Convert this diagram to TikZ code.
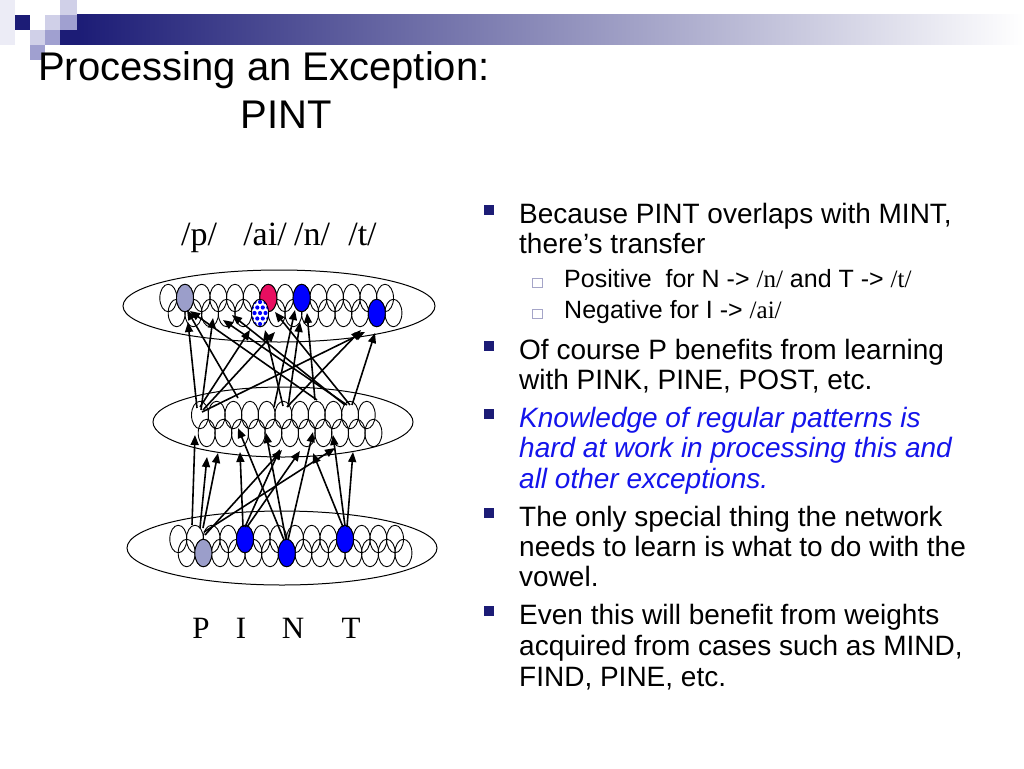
\documentclass[tikz,border=0pt]{standalone}
\usepackage{fontspec}
\setmainfont{Liberation Sans}
\newfontfamily\tms{Liberation Serif}
\usetikzlibrary{arrows.meta,shapes.geometric,calc}
\definecolor{navy}{RGB}{28,28,118}
\definecolor{lightlav}{RGB}{208,208,232}
\definecolor{medlav}{RGB}{160,160,208}
\definecolor{faintlav}{RGB}{236,236,246}
\definecolor{pgray}{RGB}{155,158,202}
\definecolor{pred}{RGB}{232,14,96}
\definecolor{pblue}{RGB}{0,0,255}
\definecolor{txtblue}{RGB}{20,20,235}
\definecolor{subbox}{RGB}{165,165,200}
\begin{document}
\begin{tikzpicture}[x=1pt,y=-1pt,
  unit/.style={ellipse,draw=black,line width=0.9pt,minimum width=17pt,minimum height=27.5pt,inner sep=0pt},
  layer/.style={draw=black,line width=1pt},
  colfill/.style={draw=black,line width=0.9pt},
  arr/.style={draw=black,line width=1.6pt,-{Triangle[length=10pt,width=8pt]}},
  bultxt/.style={anchor=base west,inner sep=0pt,font=\fontsize{28}{30}\selectfont},
  subtxt/.style={anchor=base west,inner sep=0pt,font=\fontsize{25}{27}\selectfont},
  bulsq/.style={fill=navy,minimum width=10.5pt,minimum height=10.5pt,inner sep=0pt},
  subsq/.style={draw=subbox,fill=white,line width=0.9pt,minimum size=9.5pt,inner sep=0pt},
  lbl/.style={anchor=base,inner sep=0pt,font=\tms\fontsize{34}{36}\selectfont},
  inlbl/.style={anchor=base,inner sep=0pt,font=\tms\fontsize{31}{33}\selectfont}
]
\useasboundingbox (0,0) rectangle (1024,768);
\fill[white] (0,0) rectangle (1024,768);

% header decoration
\fill[faintlav] (0,0) rectangle (15,45);
\fill[navy] (15,15) rectangle (30,30);
\fill[lightlav] (45,15) rectangle (60,30);
\fill[lightlav] (60,0) rectangle (77,15);
\fill[medlav] (60,15) rectangle (77,30);
\fill[lightlav] (30,30) rectangle (45,45);
\fill[medlav] (45,30) rectangle (60,45);
\fill[medlav] (30,45) rectangle (45,60);
\fill[navy] (60,30) rectangle (77,45);
\shade[left color=navy,right color=white] (77,15) rectangle (1024,45);

% title
\node[anchor=base west,inner sep=0pt,font=\fontsize{40}{44}\selectfont] (title) at (38,80) {Processing an Exception:};
\node[anchor=base,inner sep=0pt,font=\fontsize{40}{44}\selectfont] (title2) at (286,128) {PINT};

% layers
\draw[layer] (279,306) ellipse [x radius=156pt, y radius=36pt];
\draw[layer] (283,422) ellipse [x radius=130pt, y radius=35pt];
\draw[layer] (282,548) ellipse [x radius=155pt, y radius=37pt];

% units
\foreach \k in {0,...,13} {
  \node[unit] (oa\k) at ({168.3+16.67*\k},298) {};
  \node[unit] (ob\k) at ({176.7+16.67*\k},313) {};
  \node[unit] (ia\k) at ({178.3+16.67*\k},539) {};
  \node[unit] (ib\k) at ({186.7+16.67*\k},553) {};
}
\foreach \k in {0,...,10} {
  \node[unit] (ha\k) at ({200+16.67*\k},415) {};
  \node[unit] (hb\k) at ({206.7+16.67*\k},433) {};
}

% coloured units
\path[colfill,fill=pgray] (oa1.center) ellipse [x radius=8.5pt, y radius=13.75pt];
\path[colfill,fill=pred]  (oa6.center) ellipse [x radius=8.5pt, y radius=13.75pt];
\path[colfill,fill=pblue] (oa8.center) ellipse [x radius=8.5pt, y radius=13.75pt];
\path[colfill,fill=pblue] (ob12.center) ellipse [x radius=8.5pt, y radius=13.75pt];
\begin{scope}
  \clip (ob5.center) ellipse [x radius=8.5pt, y radius=13.75pt];
  \fill[white] (ob5.center) ellipse [x radius=8.5pt, y radius=13.75pt];
  \foreach \dy in {-11,0,11} \foreach \dx in {-5.5,0,5.5}
    \fill[pblue] ($(ob5.center)+(\dx,\dy)$) circle (2.1pt);
  \foreach \dy in {-5.5,5.5} \foreach \dx in {-8.25,-2.75,2.75,8.25}
    \fill[pblue] ($(ob5.center)+(\dx,\dy)$) circle (2.1pt);
\end{scope}
\draw[line width=0.9pt] (ob5.center) ellipse [x radius=8.5pt, y radius=13.75pt];
\path[colfill,fill=pgray] (ib1.center) ellipse [x radius=8.5pt, y radius=13.75pt];
\path[colfill,fill=pblue] (ia4.center) ellipse [x radius=8.5pt, y radius=13.75pt];
\path[colfill,fill=pblue] (ib6.center) ellipse [x radius=8.5pt, y radius=13.75pt];
\path[colfill,fill=pblue] (ia10.center) ellipse [x radius=8.5pt, y radius=13.75pt];

% input -> hidden connections
\foreach \i/\sx/\sy/\tx/\ty in {
  1/192/525/195/435, 2/200/528/207/457, 3/203/528/218/453, 4/205/535/282/450,
  5/204/532/335/448, 6/243/527/240/452, 7/245/527/280/449, 8/247/527/300/451,
  9/284/540/238/428, 10/286/540/266/433, 11/288/540/313/432, 12/343/527/313/453,
  13/345/526/333/435, 14/347/527/353/452} {
  \coordinate (s\i) at (\sx,\sy);
  \coordinate (t\i) at (\tx,\ty);
  \draw[arr] (s\i) -- (t\i);
}
% hidden -> output connections
\foreach \i/\sx/\sy/\tx/\ty in {
  1/197/408/188/322, 2/201/410/213/318, 3/200/407/250/330, 4/203/410/275/332,
  5/202/412/365/332, 6/238/398/187/310, 7/283/406/265/330, 8/288/407/300/322,
  9/287/407/361/330, 10/317/400/190/311, 11/315/400/307/313, 12/347/405/223/320,
  13/345/405/232/315, 14/350/405/275/312, 15/352/405/375/333, 16/274/407/295/310} {
  \coordinate (u\i) at (\sx,\sy);
  \coordinate (v\i) at (\tx,\ty);
  \draw[arr] (u\i) -- (v\i);
}

% labels
\node[lbl] (lp) at (199,245) {/p/};
\node[lbl] (lai) at (265,245) {/ai/};
\node[lbl] (ln) at (312,245) {/n/};
\node[lbl] (lt) at (362.5,245) {/t/};
\node[inlbl] (iP) at (201,638) {P};
\node[inlbl] (iI) at (241,638) {I};
\node[inlbl] (iN) at (293,638) {N};
\node[inlbl] (iT) at (351,638) {T};

% bullet list
\node[bulsq] (b1) at (489,210) {};
\node[bultxt] (b1a) at (519,223) {Because PINT overlaps with MINT,};
\node[bultxt] (b1b) at (519,253) {there’s transfer};
\node[subsq] (s1b) at (537.5,283) {};
\node[subtxt] (s1t) at (564,287) {Positive\ \ for N -> {\tms /n/} and T -> {\tms /t/}};
\node[subsq] (s2b) at (537.5,314) {};
\node[subtxt] (s2t) at (564,318) {Negative for I -> {\tms /ai/}};
\node[bulsq] (b2) at (489,346) {};
\node[bultxt] (b2a) at (519,359) {Of course P benefits from learning};
\node[bultxt] (b2b) at (519,389) {with PINK, PINE, POST, etc.};
\node[bulsq] (b3) at (489,414) {};
\node[bultxt,text=txtblue,font=\fontsize{28}{30}\selectfont\itshape] (b3a) at (519,427) {Knowledge of regular patterns is};
\node[bultxt,text=txtblue,font=\fontsize{28}{30}\selectfont\itshape] (b3b) at (519,457) {hard at work in processing this and};
\node[bultxt,text=txtblue,font=\fontsize{28}{30}\selectfont\itshape] (b3c) at (519,488) {all other exceptions.};
\node[bulsq] (b4) at (489,513) {};
\node[bultxt] (b4a) at (519,526) {The only special thing the network};
\node[bultxt] (b4b) at (519,556) {needs to learn is what to do with the};
\node[bultxt] (b4c) at (519,586) {vowel.};
\node[bulsq] (b5) at (489,611) {};
\node[bultxt] (b5a) at (519,624) {Even this will benefit from weights};
\node[bultxt] (b5b) at (519,655) {acquired from cases such as MIND,};
\node[bultxt] (b5c) at (519,686) {FIND, PINE, etc.};
\end{tikzpicture}
\end{document}
